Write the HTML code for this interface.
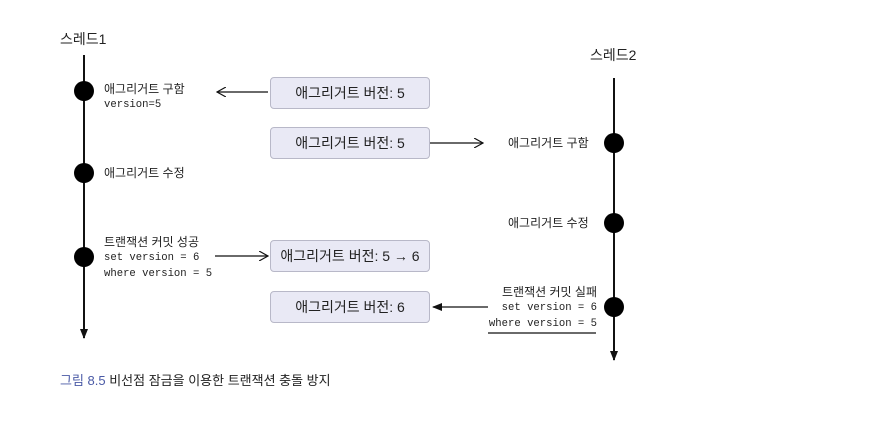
<!DOCTYPE html>
<html><head><meta charset="utf-8"><style>
body{margin:0;width:876px;height:428px;background:#fff;position:relative;font-family:"Liberation Sans","Noto Sans CJK KR",sans-serif;color:#222;overflow:hidden}
.t{position:absolute;font-size:12px;line-height:16px;white-space:nowrap}
.t div{height:16px}
.m{font-family:"Liberation Mono","Noto Sans CJK KR",monospace;font-size:10.6px;line-height:16px}
.box{position:absolute;width:158px;height:30px;background:#e9e9f5;border:1px solid #b8b8c8;border-radius:4px;font-size:14px;line-height:30px;text-align:center}
</style></head><body>
<svg width="876" height="428" style="position:absolute;left:0;top:0">
<defs>
<marker id="f" markerWidth="10" markerHeight="8" refX="9" refY="4" orient="auto" markerUnits="userSpaceOnUse"><path d="M0,0L10,4L0,8z" fill="#111"/></marker>
<marker id="o" markerWidth="10" markerHeight="10" refX="9" refY="5" orient="auto" markerUnits="userSpaceOnUse"><path d="M0,0L9,5L0,10" fill="none" stroke="#111" stroke-width="1.2"/></marker>
</defs>
<g stroke="#111" stroke-width="2">
<line x1="84" y1="55" x2="84" y2="338" marker-end="url(#f)"/>
<line x1="614" y1="78" x2="614" y2="360" marker-end="url(#f)"/>
</g>
<g fill="#000">
<circle cx="84" cy="91" r="10"/><circle cx="84" cy="173" r="10"/><circle cx="84" cy="257" r="10"/>
<circle cx="614" cy="143" r="10"/><circle cx="614" cy="223" r="10"/><circle cx="614" cy="307" r="10"/>
</g>
<g stroke="#111" stroke-width="1.3">
<line x1="268" y1="92" x2="217" y2="92" marker-end="url(#o)"/>
<line x1="430" y1="143" x2="483" y2="143" marker-end="url(#o)"/>
<line x1="215" y1="256" x2="268" y2="256" marker-end="url(#o)"/>
<line x1="488" y1="307" x2="433" y2="307" marker-end="url(#f)"/>
<line x1="488" y1="333" x2="596" y2="333"/>
</g>
</svg>
<div class="t" style="left:60px;top:31px;font-size:14px">스레드1</div>
<div class="t" style="left:590px;top:47px;font-size:14px">스레드2</div>
<div class="t" style="left:104px;top:81px"><div>애그리거트 구함</div><div class="m">version=5</div></div>
<div class="t" style="left:104px;top:165px">애그리거트 수정</div>
<div class="t" style="left:104px;top:234px"><div>트랜잭션 커밋 성공</div><div class="m">set version = 6</div><div class="m">where version = 5</div></div>
<div class="t" style="left:508px;top:135px">애그리거트 구함</div>
<div class="t" style="left:508px;top:215px">애그리거트 수정</div>
<div class="t" style="left:470px;top:284px;width:127px;text-align:right"><div>트랜잭션 커밋 실패</div><div class="m">set version = 6</div><div class="m">where version = 5</div></div>
<div class="box" style="left:270px;top:77px">애그리거트 버전: 5</div>
<div class="box" style="left:270px;top:127px">애그리거트 버전: 5</div>
<div class="box" style="left:270px;top:240px">애그리거트 버전: 5 → 6</div>
<div class="box" style="left:270px;top:291px">애그리거트 버전: 6</div>
<div class="t" style="left:60px;top:373px;font-size:13px"><span style="color:#4a5aa6">그림 8.5</span> 비선점 잠금을 이용한 트랜잭션 충돌 방지</div>
</body></html>
